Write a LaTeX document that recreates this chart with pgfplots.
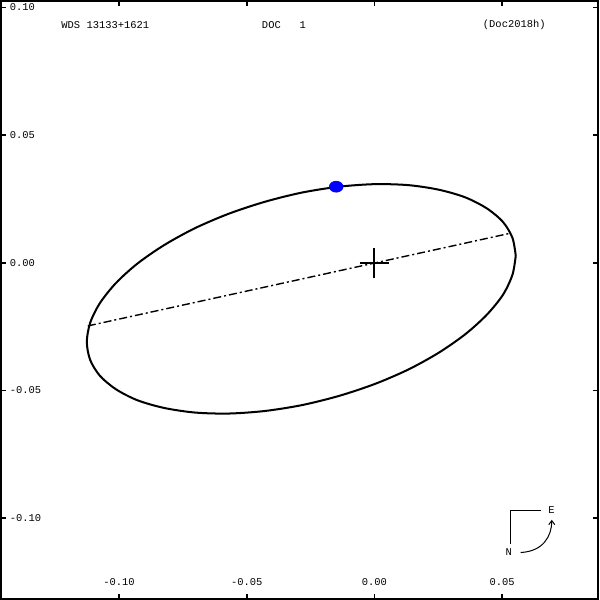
\documentclass[border=0pt]{standalone}
\usepackage{pgfplots}
\pgfplotsset{compat=1.18}
\usepackage{fontspec}
\setmainfont{Liberation Mono}
\usetikzlibrary{arrows.meta}
\begin{document}
\fontsize{5}{6}\selectfont
\begin{tikzpicture}
\begin{axis}[
  scale only axis, width=297.5pt, height=298pt,
  xmin=-0.1462, xmax=0.0875, ymin=-0.1316, ymax=0.1025,
  axis line style={line width=1pt},
  tick align=inside, major tick length=2.5pt,
  tick style={line width=0.8pt, black},
  xtick={-0.1,-0.05,0,0.05}, xticklabels={-0.10,-0.05,0.00,0.05},
  ytick={-0.1,-0.05,0,0.05,0.1}, yticklabels={-0.10,-0.05,0.00,0.05,0.10},
  every tick label/.append style={font=\fontsize{5.2}{6}\selectfont},
  xticklabel style={anchor=south, yshift=5pt},
  yticklabel style={anchor=west, xshift=2.5pt},
  /pgf/number format/assume math mode=true,
  clip=false,
]
% apparent orbit
\addplot[black, line width=1pt, smooth, tension=0.5] coordinates {
(0.0553,0.0028) (0.0540,0.0098) (0.0503,0.0160) (0.0440,0.0213) (0.0356,0.0256)
(0.0253,0.0286) (0.0134,0.0304) (0.0002,0.0308) (-0.0139,0.0298) (-0.0284,0.0275)
(-0.0429,0.0239) (-0.0571,0.0192) (-0.0704,0.0135) (-0.0824,0.0069) (-0.0928,-0.0003)
(-0.1012,-0.0079) (-0.1075,-0.0158) (-0.1113,-0.0235) (-0.1126,-0.0310) (-0.1113,-0.0380)
(-0.1075,-0.0442) (-0.1012,-0.0495) (-0.0928,-0.0538) (-0.0824,-0.0568) (-0.0704,-0.0586)
(-0.0571,-0.0590) (-0.0429,-0.0580) (-0.0284,-0.0557) (-0.0139,-0.0521) (0.0002,-0.0474)
(0.0134,-0.0417) (0.0253,-0.0351) (0.0356,-0.0279) (0.0440,-0.0203) (0.0503,-0.0125)
(0.0540,-0.0047) (0.0553,0.0028)
};
% line of nodes
\addplot[black, line width=0.7pt, dash pattern=on 4pt off 1.5pt on 1pt off 1.5pt] coordinates {
(-0.1122,-0.0247) (0.0528,0.0115)
};
% primary cross
\addplot[black, line width=1pt] coordinates {(-0.0058,0) (0.0056,0)};
\addplot[black, line width=1pt] coordinates {(0,0.0058) (0,-0.0060)};
% measurement
\addplot[only marks, mark=*, mark size=2.7pt, color=blue, fill=blue, mark options={xscale=1.25}] coordinates {(-0.0150,0.0298)};
% titles
\node[anchor=west, font=\fontsize{5.2}{6}\selectfont] at (axis cs:-0.1240,0.0931) {WDS 13133+1621};
\node[anchor=west, font=\fontsize{5.2}{6}\selectfont] at (axis cs:-0.0455,0.0931) {DOC\ \ \ 1};
\node[anchor=west, font=\fontsize{5.2}{6}\selectfont] at (axis cs:0.0410,0.0931) {(Doc2018h)};
% orientation
\draw[line width=0.6pt] (axis cs:0.0533,-0.1100) -- (axis cs:0.0533,-0.0971) -- (axis cs:0.0650,-0.0971);
\node[font=\fontsize{5.2}{6}\selectfont] at (axis cs:0.0693,-0.0966) {E};
\node[font=\fontsize{5.2}{6}\selectfont] at (axis cs:0.0526,-0.1131) {N};
\draw[line width=0.5pt, -{Straight Barb[length=2pt,width=3pt]}] (axis cs:0.0572,-0.1134) .. controls (axis cs:0.0660,-0.1130) and (axis cs:0.0694,-0.1070) .. (axis cs:0.0694,-0.1006);
\end{axis}
\end{tikzpicture}
\end{document}
